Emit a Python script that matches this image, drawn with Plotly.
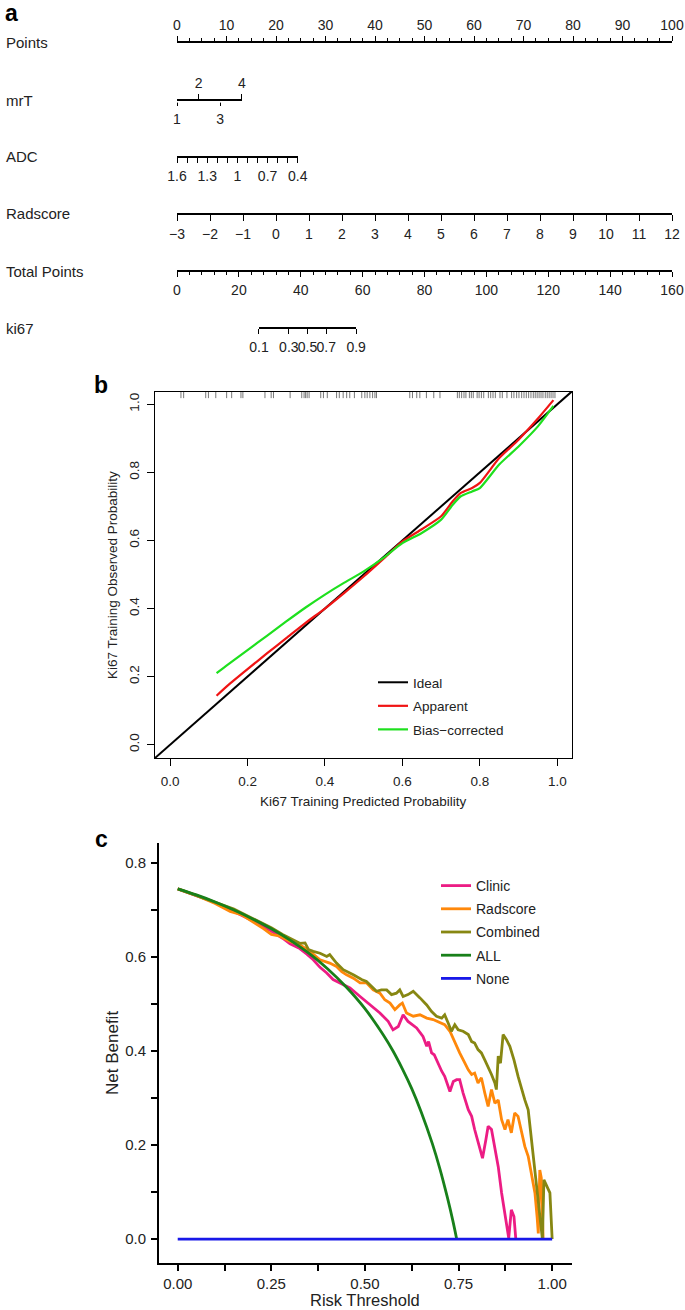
import numpy as np
import plotly.graph_objects as go

W, H = 685, 1310
FONT = "Liberation Sans, Arial, sans-serif"


def px(x):
    return x / W


def py(y):
    return 1 - y / H


# ---------------- Panel a : nomogram ----------------
points_range = [0, 100]
mrT_below = [1, 3]
mrT_above = [2, 4]
mrT_range = [1, 4]
mrT_max_points = 13.1
adc_labels = [1.6, 1.3, 1.0, 0.7, 0.4]
adc_minor = [1.5, 1.4, 1.2, 1.1, 0.9, 0.8, 0.6, 0.5]
adc_range = [1.6, 0.4]
adc_max_points = 24.4
radscore_range = [-3, 12]
total_range = [0, 160]
ki67_probs = [0.1, 0.3, 0.5, 0.7, 0.9]
ki67_total_points = [26.5, 57.9]   # total points at p=0.1 and p=0.9

row_names = ["Points", "mrT", "ADC", "Radscore", "Total Points", "ki67"]

# ---------------- Panel b : calibration ----------------
cal_x = [0.12, 0.15, 0.20, 0.25, 0.30, 0.35, 0.40, 0.45, 0.50, 0.55, 0.60,
         0.65, 0.70, 0.73, 0.75, 0.78, 0.80, 0.85, 0.90, 0.95, 0.99]
apparent = [0.144, 0.175, 0.222, 0.268, 0.313, 0.358, 0.400, 0.446, 0.494, 0.545, 0.597,
            0.633, 0.671, 0.715, 0.739, 0.754, 0.769, 0.842, 0.896, 0.958, 1.012]
bias_corrected = [0.210, 0.236, 0.278, 0.320, 0.362, 0.403, 0.441, 0.476, 0.509, 0.548, 0.592,
                  0.622, 0.661, 0.705, 0.729, 0.744, 0.754, 0.823, 0.876, 0.935, 0.995]
ideal_x = [-0.1, 1.1]
rug = [0.028, 0.035, 0.092, 0.099, 0.118, 0.146, 0.159, 0.183, 0.188, 0.245, 0.261, 0.267,
       0.310, 0.340, 0.346, 0.350, 0.354, 0.359, 0.389, 0.396, 0.406, 0.430, 0.437, 0.447,
       0.456, 0.464, 0.476, 0.495, 0.503, 0.509, 0.516, 0.523, 0.529, 0.533, 0.619, 0.626,
       0.637, 0.645, 0.662, 0.681, 0.697, 0.742, 0.747, 0.753, 0.759, 0.764, 0.773, 0.778,
       0.783, 0.793, 0.798, 0.804, 0.810, 0.822, 0.828, 0.834, 0.840, 0.852, 0.858, 0.870,
       0.882, 0.888, 0.895, 0.901, 0.908, 0.914, 0.920, 0.926, 0.932, 0.938, 0.943, 0.948,
       0.953, 0.958, 0.963, 0.969, 0.974, 0.979, 0.984, 0.989, 0.994]

# ---------------- Panel c : decision curves ----------------
all_t = [0, 0.05, 0.10, 0.15, 0.20, 0.25, 0.30, 0.35, 0.40, 0.45, 0.50, 0.55, 0.575,
         0.60, 0.625, 0.65, 0.68, 0.70, 0.72, 0.735, 0.745]
all_nb = [0.745, 0.732, 0.717, 0.700, 0.681, 0.660, 0.636, 0.608, 0.575, 0.536, 0.490, 0.433,
          0.400, 0.362, 0.320, 0.271, 0.203, 0.150, 0.089, 0.038, 0.0]

clinic_t = [0, 0.05, 0.10, 0.15, 0.20, 0.25, 0.28, 0.30, 0.326, 0.345, 0.362, 0.38, 0.398,
            0.415, 0.442, 0.46, 0.487, 0.513, 0.540, 0.562, 0.575, 0.589, 0.602, 0.615, 0.638,
            0.655, 0.665, 0.670, 0.678, 0.685, 0.691, 0.705, 0.713, 0.727, 0.736, 0.745, 0.753,
            0.762, 0.776, 0.785, 0.793, 0.802, 0.814, 0.823, 0.829, 0.838, 0.847, 0.856, 0.865,
            0.878, 0.884, 0.891, 0.898, 0.903]
clinic_nb = [0.745, 0.731, 0.716, 0.697, 0.677, 0.655, 0.640, 0.628, 0.618, 0.606, 0.594, 0.578,
             0.566, 0.552, 0.541, 0.534, 0.516, 0.498, 0.481, 0.463, 0.445, 0.452, 0.477, 0.463,
             0.449, 0.431, 0.410, 0.420, 0.396, 0.392, 0.381, 0.357, 0.346, 0.314, 0.335, 0.339,
             0.339, 0.311, 0.275, 0.261, 0.233, 0.204, 0.172, 0.211, 0.240, 0.233, 0.197, 0.154,
             0.098, 0.034, 0.002, 0.062, 0.048, 0.0]

radscore_t = [0, 0.05, 0.10, 0.14, 0.17, 0.20, 0.23, 0.25, 0.27, 0.30, 0.326, 0.353, 0.380,
              0.406, 0.424, 0.438, 0.451, 0.469, 0.487, 0.504, 0.522, 0.540, 0.553, 0.567, 0.580,
              0.593, 0.600, 0.611, 0.629, 0.647, 0.665, 0.682, 0.700, 0.713, 0.727, 0.740, 0.753,
              0.767, 0.776, 0.785, 0.793, 0.802, 0.811, 0.820, 0.829, 0.838, 0.847, 0.856, 0.865,
              0.874, 0.882, 0.891, 0.900, 0.909, 0.918, 0.927, 0.936, 0.945, 0.954, 0.960, 0.963,
              0.967, 0.971, 0.976]
radscore_nb = [0.745, 0.731, 0.714, 0.697, 0.690, 0.675, 0.660, 0.648, 0.645, 0.633, 0.626,
               0.612, 0.594, 0.587, 0.580, 0.569, 0.562, 0.555, 0.545, 0.545, 0.530, 0.523,
               0.509, 0.502, 0.488, 0.498, 0.502, 0.481, 0.474, 0.477, 0.470, 0.467, 0.460,
               0.456, 0.442, 0.417, 0.396, 0.374, 0.360, 0.350, 0.353, 0.332, 0.343, 0.311,
               0.282, 0.318, 0.289, 0.296, 0.254, 0.233, 0.254, 0.226, 0.268, 0.261, 0.226,
               0.197, 0.176, 0.140, 0.098, 0.045, 0.012, 0.147, 0.130, 0.0]

combined_t = [0, 0.05, 0.10, 0.15, 0.20, 0.25, 0.28, 0.30, 0.326, 0.340, 0.349, 0.362, 0.380,
              0.398, 0.406, 0.424, 0.442, 0.469, 0.491, 0.504, 0.518, 0.531, 0.544, 0.558, 0.571,
              0.584, 0.593, 0.602, 0.615, 0.629, 0.647, 0.665, 0.678, 0.691, 0.705, 0.713, 0.722,
              0.731, 0.740, 0.749, 0.762, 0.776, 0.785, 0.793, 0.802, 0.811, 0.820, 0.829, 0.838,
              0.847, 0.851, 0.856, 0.862, 0.869, 0.878, 0.887, 0.898, 0.909, 0.918, 0.927, 0.936,
              0.945, 0.954, 0.962, 0.970, 0.974, 0.978, 0.985, 0.994, 1.0]
combined_nb = [0.745, 0.731, 0.717, 0.702, 0.682, 0.662, 0.648, 0.640, 0.629, 0.630, 0.616,
               0.612, 0.608, 0.601, 0.605, 0.587, 0.573, 0.562, 0.552, 0.548, 0.537, 0.527,
               0.530, 0.530, 0.520, 0.523, 0.530, 0.516, 0.520, 0.527, 0.513, 0.498, 0.484,
               0.474, 0.470, 0.477, 0.460, 0.442, 0.456, 0.445, 0.442, 0.435, 0.420, 0.417,
               0.403, 0.396, 0.381, 0.367, 0.350, 0.332, 0.318, 0.389, 0.374, 0.435, 0.424,
               0.410, 0.381, 0.346, 0.318, 0.296, 0.275, 0.211, 0.154, 0.098, 0.034, 0.0,
               0.126, 0.112, 0.098, 0.0]

none_t = [0, 1]
none_nb = [0, 0]

fig = go.Figure()
layout = dict(
    width=W, height=H, margin=dict(l=0, r=0, t=0, b=0, pad=0, autoexpand=False),
    paper_bgcolor="white", plot_bgcolor="white",
    font=dict(family=FONT, color="black"),
    showlegend=True,
)

# ----- nomogram axes -----
p0, p1 = 177, 672          # pixel extent of the Points scale
row_y = [42, 100, 157, 214, 271, 328]


def pts_to_px(pts, scale_max=100):
    return p0 + pts / scale_max * (p1 - p0)


ki67_lp = [float(np.log(p / (1 - p))) for p in ki67_probs]

nomo = [
    dict(n=1, dom=(p0, p1), rng=points_range, row=0, side="top",
         major=dict(tickmode="linear", tick0=0, dtick=10),
         minor=dict(tick0=0, dtick=2.5)),
    dict(n=2, dom=(p0, pts_to_px(mrT_max_points)), rng=mrT_range, row=1, side="bottom",
         major=dict(tickmode="array", tickvals=mrT_below, ticktext=[str(v) for v in mrT_below]),
         minor=None),
    dict(n=3, dom=(p0, pts_to_px(mrT_max_points)), rng=mrT_range, row=1, side="top",
         major=dict(tickmode="array", tickvals=mrT_above, ticktext=[str(v) for v in mrT_above]),
         minor=None),
    dict(n=4, dom=(p0, pts_to_px(adc_max_points)), rng=adc_range, row=2, side="bottom",
         major=dict(tickmode="array", tickvals=adc_labels, ticktext=[f"{v:g}" for v in adc_labels]),
         minor=dict(tickmode="array", tickvals=adc_minor)),
    dict(n=5, dom=(p0, p1), rng=radscore_range, row=3, side="bottom",
         major=dict(tickmode="linear", tick0=0, dtick=1),
         minor=None),
    dict(n=6, dom=(p0, p1), rng=total_range, row=4, side="bottom",
         major=dict(tickmode="linear", tick0=0, dtick=20),
         minor=dict(tick0=0, dtick=4)),
    dict(n=7, dom=(pts_to_px(ki67_total_points[0], 160), pts_to_px(ki67_total_points[1], 160)),
         rng=[ki67_lp[0], ki67_lp[-1]], row=5, side="bottom",
         major=dict(tickmode="array", tickvals=ki67_lp, ticktext=[f"{v:g}" for v in ki67_probs]),
         minor=None),
]

for ax in nomo:
    n = ax["n"]
    ya = py(row_y[ax["row"]])
    xa = dict(
        domain=[px(ax["dom"][0]), px(ax["dom"][1])], range=ax["rng"],
        anchor="free", position=ya, side=ax["side"], automargin=False,
        showline=True, linecolor="black", linewidth=1.6,
        ticks="outside", ticklen=5 if n != 5 else 6, tickwidth=1, tickcolor="black",
        showgrid=False, zeroline=False, fixedrange=True, tickangle=0,
        tickfont=dict(size=14, family=FONT, color="#222"),
        ticklabelstandoff=1,
        **ax["major"],
    )
    if ax["minor"] is not None:
        mn = dict(ticks="outside", ticklen=3 if n != 4 else 5, tickwidth=1,
                  tickcolor="black", showgrid=False)
        mn.update(ax["minor"])
        xa["minor"] = mn
    layout[f"xaxis{n}"] = xa
    layout[f"yaxis{n}"] = dict(domain=[max(ya - 0.002, 0), min(ya + 0.002, 1)], range=[0, 1],
                               visible=False, fixedrange=True, automargin=False)
    fig.add_trace(go.Scatter(x=ax["rng"], y=[-5, -5], xaxis=f"x{n}", yaxis=f"y{n}",
                             mode="markers", marker=dict(opacity=0), hoverinfo="skip",
                             showlegend=False))

annotations = []


def note(text, x, y, size, angle=0, xanchor="center", bold=False, color="#222"):
    annotations.append(dict(text=f"<b>{text}</b>" if bold else text, x=px(x), y=py(y),
                            xref="paper", yref="paper", xanchor=xanchor, yanchor="middle",
                            showarrow=False, textangle=angle,
                            font=dict(size=size, family=FONT, color=color)))


for name, ry in zip(row_names, row_y):
    note(name, 4, ry, 15, xanchor="left")

# ----- panel b -----
b_xr = [-0.039, 1.038]
b_yr = [-0.039, 1.036]
fig.add_trace(go.Scatter(x=ideal_x, y=ideal_x, xaxis="x8", yaxis="y8", mode="lines",
                         line=dict(color="black", width=2), name="Ideal", legend="legend",
                         legendgroup="i"))
fig.add_trace(go.Scatter(x=cal_x, y=apparent, xaxis="x8", yaxis="y8", mode="lines",
                         line=dict(color="#F01414", width=2.2, shape="spline", smoothing=0.6),
                         name="Apparent", legend="legend", legendgroup="a"))
fig.add_trace(go.Scatter(x=cal_x, y=bias_corrected, xaxis="x8", yaxis="y8", mode="lines",
                         line=dict(color="#1EE01E", width=2.2, shape="spline", smoothing=0.6),
                         name="Bias\u2212corrected", legend="legend", legendgroup="b"))
rx, ryy = [], []
for v in rug:
    rx += [v, v, None]
    ryy += [b_yr[1], b_yr[1] - 0.018, None]
fig.add_trace(go.Scatter(x=rx, y=ryy, xaxis="x8", yaxis="y8", mode="lines",
                         line=dict(color="#555", width=0.8), showlegend=False, hoverinfo="skip"))

axis_b = dict(showline=True, mirror=True, linecolor="black", linewidth=1, ticks="outside",
              ticklen=7, tickwidth=1, tickcolor="black", showgrid=False, zeroline=False,
              tickmode="array", tickvals=[0, 0.2, 0.4, 0.6, 0.8, 1.0],
              ticktext=["0.0", "0.2", "0.4", "0.6", "0.8", "1.0"], automargin=False,
              tickfont=dict(size=13.5, family=FONT, color="#222"), fixedrange=True)
layout["xaxis8"] = dict(axis_b, domain=[px(155), px(572)], range=b_xr, anchor="y8",
                        ticklabelstandoff=4)
layout["yaxis8"] = dict(axis_b, domain=[py(758), py(392)], range=b_yr, anchor="x8",
                        tickangle=-90, ticklabelstandoff=3)

note("Ki67 Training Predicted Probability", 363, 801, 13.5)
note("Ki67 Training Observed Probability", 112, 575, 13.5, angle=-90)

layout["legend"] = dict(x=px(373), y=py(667), xanchor="left", yanchor="top",
                        bgcolor="rgba(0,0,0,0)", font=dict(size=13.5, family=FONT, color="#222"),
                        tracegroupgap=3, traceorder="grouped")

# ----- panel c -----
dca = [
    ("Clinic", clinic_t, clinic_nb, "#EC1C84", "linear"),
    ("Radscore", radscore_t, radscore_nb, "#FF880A", "linear"),
    ("Combined", combined_t, combined_nb, "#878712", "linear"),
    ("ALL", all_t, all_nb, "#18801A", "spline"),
    ("None", none_t, none_nb, "#1818E8", "linear"),
]
for name, t, nb, col, shp in dca:
    fig.add_trace(go.Scatter(x=t, y=nb, xaxis="x9", yaxis="y9", mode="lines", name=name,
                             line=dict(color=col, width=2.8, shape=shp), legend="legend2",
                             legendgroup=name))

axis_c = dict(showline=True, linecolor="black", linewidth=2, ticks="outside", ticklen=6,
              tickwidth=2, tickcolor="black", showgrid=False, zeroline=False, automargin=False,
              tickfont=dict(size=15, family=FONT, color="#222"), fixedrange=True)
layout["xaxis9"] = dict(axis_c, domain=[px(159), px(572)], range=[-0.05, 1.053], anchor="y9",
                        tickmode="linear", tick0=0, dtick=0.25, tickformat=".2f",
                        minor=dict(tick0=0, dtick=0.125, ticks="outside", ticklen=6,
                                   tickwidth=2, tickcolor="black", showgrid=False),
                        ticklabelstandoff=0)
layout["yaxis9"] = dict(axis_c, domain=[py(1263), py(843)], range=[-0.051, 0.8425], anchor="x9",
                        tickmode="linear", tick0=0, dtick=0.2, tickformat=".1f",
                        minor=dict(tick0=0, dtick=0.1, ticks="outside", ticklen=6,
                                   tickwidth=2, tickcolor="black", showgrid=False),
                        ticklabelstandoff=2)
layout["legend2"] = dict(x=px(436), y=py(870), xanchor="left", yanchor="top",
                         bgcolor="rgba(0,0,0,0)", font=dict(size=14, family=FONT, color="#222"),
                         tracegroupgap=2, traceorder="grouped")

note("Risk Threshold", 365, 1300, 16.5)
note("Net Benefit", 112, 1053, 17, angle=-90)

# panel letters
for letter, lx, ly, sz in [("a", 11, 13, 23), ("b", 101, 385, 23), ("c", 101, 839, 23)]:
    note(letter, lx, ly, sz, bold=True, color="black")

layout["annotations"] = annotations
fig.update_layout(**layout)
fig.write_html("out.html", config={"displayModeBar": False},
               post_script="document.body.style.margin='0';document.body.style.overflow='hidden';")
